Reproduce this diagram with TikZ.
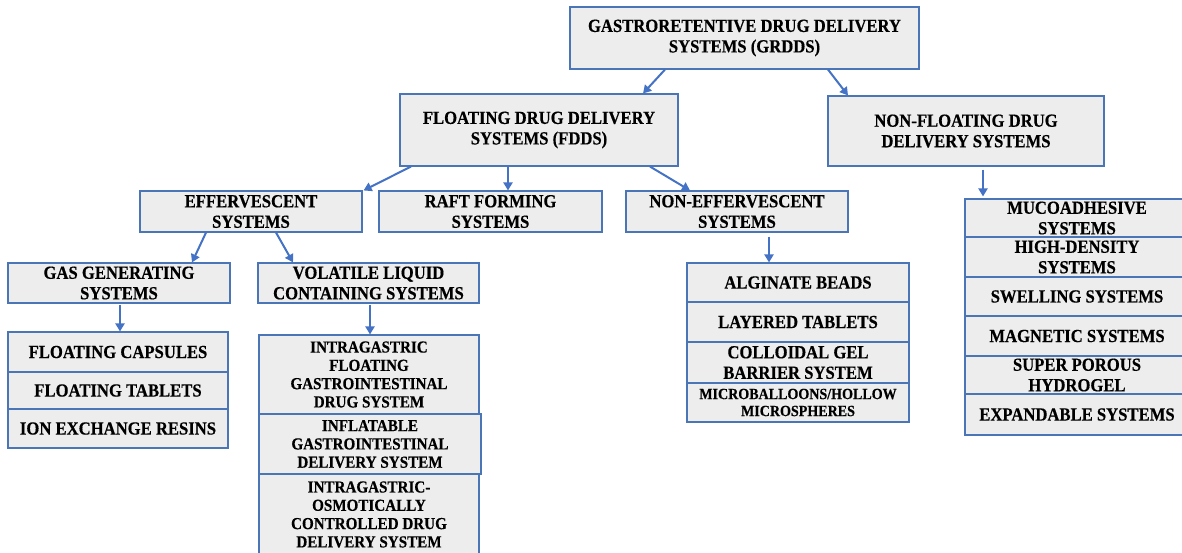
\documentclass[tikz,border=0pt]{standalone}
\usepackage{fontspec}
\newfontfamily\tf{Liberation Serif}[FakeStretch=0.9,BoldFeatures={FakeBold=0.4}]
\usetikzlibrary{arrows.meta}
\definecolor{bc}{RGB}{74,118,184}
\definecolor{ac}{RGB}{68,114,196}
\definecolor{bg}{RGB}{237,237,237}
\tikzset{
  box/.style={draw=bc, fill=bg, line width=1.1pt, align=center, inner sep=0pt,
    font=\tf\bfseries\fontsize{18.5}{20.5}\selectfont},
  smalltxt/.style={font=\tf\bfseries\fontsize{16.8}{18.3}\selectfont},
  tinytxt/.style={font=\tf\bfseries\fontsize{15.6}{17}\selectfont},
  arr/.style={draw=ac, line width=2pt, -{Triangle[width=9pt,length=8pt]}},
}
\begin{document}
\begin{tikzpicture}[x=1pt,y=-1pt]
\useasboundingbox (0,0) rectangle (1182,552);
% level 0
\node[box, minimum width=349, minimum height=62] (grdds) at (744.5,38) {GASTRORETENTIVE DRUG DELIVERY\\SYSTEMS (GRDDS)};
% level 1
\node[box, minimum width=278, minimum height=72] (fdds) at (539,130) {FLOATING DRUG DELIVERY\\SYSTEMS (FDDS)};
\node[box, minimum width=276, minimum height=70] (nonfl) at (966,131) {NON-FLOATING DRUG\\DELIVERY SYSTEMS};
% level 2
\node[box, minimum width=222, minimum height=41] (effer) at (251,211.5) {EFFERVESCENT\\SYSTEMS};
\node[box, minimum width=223, minimum height=41] (raft) at (490.5,211.5) {RAFT FORMING\\SYSTEMS};
\node[box, minimum width=222, minimum height=41] (noneff) at (737,211.5) {NON-EFFERVESCENT\\SYSTEMS};
% level 3
\node[box, minimum width=222, minimum height=40] (gas) at (119,283) {GAS GENERATING\\SYSTEMS};
\node[box, minimum width=221, minimum height=40] (vol) at (368.5,283) {VOLATILE LIQUID\\CONTAINING SYSTEMS};
% capsules stack
\node[box, minimum width=220, minimum height=40] (cap1) at (118,352) {FLOATING CAPSULES};
\node[box, minimum width=220, minimum height=37] (cap2) at (118,390.5) {FLOATING TABLETS};
\node[box, minimum width=220, minimum height=39] (cap3) at (118,428.5) {ION EXCHANGE RESINS};
% intragastric stack
\node[box, smalltxt, minimum width=220, minimum height=79] (ig1) at (369,374.5) {INTRAGASTRIC\\FLOATING\\GASTROINTESTINAL\\DRUG SYSTEM};
\node[box, smalltxt, minimum width=222, minimum height=60] (ig2) at (370,444) {INFLATABLE\\GASTROINTESTINAL\\DELIVERY SYSTEM};
\node[box, smalltxt, minimum width=220, minimum height=81] (ig3) at (369,514.5) {INTRAGASTRIC-\\OSMOTICALLY\\CONTROLLED DRUG\\DELIVERY SYSTEM};
% alginate stack
\node[box, minimum width=222, minimum height=39] (al1) at (798,282.5) {ALGINATE BEADS};
\node[box, minimum width=222, minimum height=40] (al2) at (798,322) {LAYERED TABLETS};
\node[box, minimum width=222, minimum height=41] (al3) at (798,362.5) {COLLOIDAL GEL\\BARRIER SYSTEM};
\node[box, tinytxt, minimum width=222, minimum height=39] (al4) at (798,402.5) {MICROBALLOONS/HOLLOW\\MICROSPHERES};
% right stack
\node[box, minimum width=224, minimum height=38] (r1) at (1077,218) {MUCOADHESIVE\\SYSTEMS};
\node[box, minimum width=224, minimum height=40] (r2) at (1077,257) {HIGH-DENSITY\\SYSTEMS};
\node[box, minimum width=224, minimum height=39] (r3) at (1077,296.5) {SWELLING SYSTEMS};
\node[box, minimum width=224, minimum height=40] (r4) at (1077,336) {MAGNETIC SYSTEMS};
\node[box, minimum width=224, minimum height=38] (r5) at (1077,375) {SUPER POROUS\\HYDROGEL};
\node[box, minimum width=224, minimum height=41] (r6) at (1077,414.5) {EXPANDABLE SYSTEMS};
% connectors
\draw[arr] ([xshift=-79.5pt]grdds.south) -- ([xshift=104pt]fdds.north);
\draw[arr] ([xshift=83.5pt]grdds.south) -- ([xshift=-118pt]nonfl.north);
\draw[arr] ([xshift=-128pt]fdds.south) -- ([xshift=1pt]effer.north east);
\draw[arr] ([xshift=-31pt]fdds.south) -- ([xshift=17.5pt]raft.north);
\draw[arr] ([xshift=111pt]fdds.south) -- ([xshift=-47pt]noneff.north);
\draw[arr] ([xshift=17pt,yshift=-3pt]nonfl.south) -- ([xshift=-94pt,yshift=2pt]r1.north);
\draw[arr] ([xshift=-45pt]effer.south) -- ([xshift=73pt]gas.north);
\draw[arr] ([xshift=25pt]effer.south) -- ([xshift=-75.5pt]vol.north);
\draw[arr] ([xshift=1pt,yshift=-1pt]gas.south) -- ([xshift=2pt]cap1.north);
\draw[arr] ([xshift=1.5pt,yshift=-1pt]vol.south) -- ([xshift=1pt]ig1.north);
\draw[arr] ([xshift=32pt,yshift=-4pt]noneff.south) -- ([xshift=-29pt]al1.north);
\end{tikzpicture}
\end{document}
